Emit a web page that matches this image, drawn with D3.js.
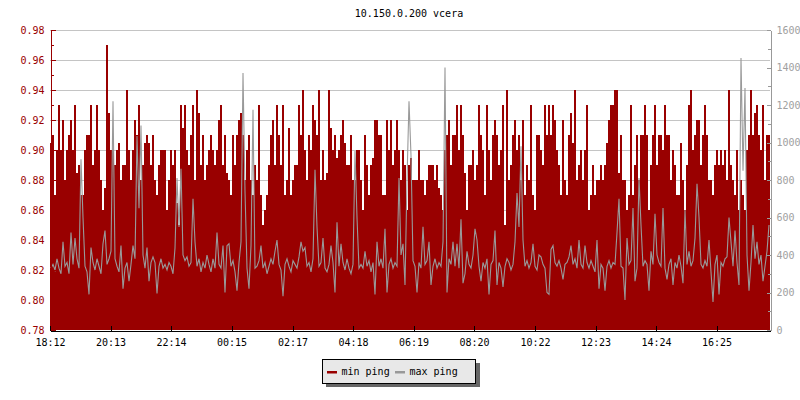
<!DOCTYPE html>
<html><head><meta charset="utf-8">
<script src="https://cdn.jsdelivr.net/npm/d3@7"></script>
<style>
body{margin:0;background:#fff}
svg{display:block;font-family:"DejaVu Sans Mono",monospace;font-size:10px}
</style>
</head><body><svg id="c" width="800" height="400"></svg>
<script>
const title = "10.150.0.200 vcera";
const stepMinutes = 4;           // one sample every 4 minutes, starting 18:12
const seriesNames = ["min ping", "max ping"];
const seriesColors = ["#990000", "#999999"];

// min ping (left axis)
const minPing = [
0.905,0.91,0.87,0.90,0.93,0.90,0.92,0.88,0.90,0.91,0.92,0.90,0.93,0.885,0.89,0.87,0.87,0.90,0.91,0.91,0.93,0.89,0.90,0.93,0.90,0.88,0.86,0.875,0.97,0.925,0.90,0.90,0.89,0.90,0.905,0.88,0.89,0.89,0.94,0.90,0.88,0.90,0.92,0.91,0.93,0.88,0.89,0.905,0.91,0.905,0.89,0.91,
0.88,0.87,0.89,0.90,0.90,0.90,0.86,0.88,0.90,0.89,0.90,0.865,0.85,0.93,0.915,0.93,0.90,0.89,0.91,0.93,0.88,0.94,0.925,0.89,0.91,0.88,0.89,0.90,0.91,0.90,0.89,0.90,0.92,0.93,0.89,0.91,0.885,0.88,0.87,0.91,0.89,0.91,0.92,0.925,0.91,0.88,0.90,0.91,0.88,0.87,0.89,
0.88,0.93,0.87,0.85,0.86,0.87,0.89,0.91,0.92,0.89,0.93,0.91,0.89,0.93,0.87,0.88,0.915,0.87,0.88,0.89,0.89,0.93,0.91,0.94,0.90,0.88,0.91,0.90,0.93,0.92,0.91,0.94,0.88,0.90,0.88,0.885,0.94,0.915,0.90,0.91,0.895,0.90,0.91,0.92,0.905,0.89,0.89,0.91,0.88,0.88,0.90,0.90,
0.88,0.86,0.91,0.89,0.87,0.89,0.895,0.92,0.92,0.91,0.91,0.87,0.87,0.92,0.90,0.92,0.89,0.90,0.92,0.90,0.88,0.90,0.89,0.86,0.89,0.895,0.88,0.88,0.88,0.90,0.88,0.88,0.87,0.88,0.89,0.89,0.89,0.88,0.89,0.875,0.87,0.86,0.90,0.91,0.92,0.89,0.91,0.91,0.93,0.90,0.93,
0.91,0.885,0.86,0.89,0.89,0.90,0.88,0.89,0.93,0.91,0.90,0.87,0.93,0.90,0.88,0.91,0.92,0.91,0.89,0.90,0.93,0.85,0.94,0.88,0.89,0.91,0.92,0.90,0.91,0.88,0.92,0.87,0.89,0.88,0.93,0.87,0.86,0.91,0.91,0.90,0.89,0.93,0.91,0.93,0.91,0.93,0.92,0.90,0.89,0.87,0.92,0.88,
0.87,0.91,0.925,0.905,0.94,0.88,0.89,0.90,0.88,0.90,0.93,0.86,0.87,0.89,0.87,0.88,0.88,0.89,0.88,0.89,0.905,0.92,0.93,0.93,0.94,0.94,0.885,0.91,0.88,0.88,0.86,0.87,0.93,0.87,0.89,0.91,0.88,0.91,0.91,0.93,0.91,0.86,0.89,0.91,0.93,0.89,0.91,0.91,0.90,0.93,0.91,
0.91,0.88,0.90,0.89,0.87,0.87,0.905,0.88,0.86,0.89,0.93,0.94,0.90,0.91,0.92,0.92,0.89,0.91,0.93,0.91,0.88,0.88,0.87,0.89,0.90,0.89,0.90,0.89,0.90,0.88,0.94,0.89,0.88,0.87,0.90,0.86,0.88,0.87,0.86,0.90,0.91,0.94,0.91,0.925,0.93,0.91,0.90,0.93,0.88,0.91,0.91
];

// max ping (right axis)
const maxPing = [
330,350,320,380,330,300,470,340,360,300,520,350,490,380,330,910,600,340,310,190,440,360,320,380,340,300,460,530,350,380,420,1220,380,340,310,450,220,330,360,260,350,450,380,1035,650,1090,400,330,440,260,360,390,
360,195,340,380,330,350,320,360,340,300,437,810,550,860,400,370,390,340,360,700,470,340,380,310,360,330,400,350,310,380,330,520,350,330,450,200,450,460,340,370,310,210,360,470,1370,740,330,220,450,1175,330,
340,370,450,330,360,300,340,380,350,420,480,350,320,180,350,380,340,310,370,350,330,390,470,420,440,340,360,310,380,855,550,340,360,490,330,310,350,450,360,200,575,340,460,360,320,380,330,300,350,955,600,330,
350,330,420,340,370,310,360,190,470,340,380,330,540,200,350,380,330,360,340,810,400,460,240,800,1220,930,370,340,200,360,330,550,350,370,470,240,340,380,330,360,340,470,1400,200,380,350,470,340,460,330,590,
250,300,420,350,330,400,540,480,340,260,360,330,380,190,350,370,530,240,360,330,230,340,380,360,320,350,470,730,550,980,480,340,370,330,360,460,340,320,400,390,350,330,200,190,430,450,360,340,370,330,270,350,
360,390,450,350,380,330,480,350,330,450,360,330,370,340,310,480,220,350,330,210,340,370,330,360,350,520,700,340,330,160,490,350,370,650,260,330,810,560,340,370,350,210,420,350,620,400,360,340,650,330,270,
350,380,240,360,330,400,340,250,640,350,420,340,370,490,780,600,350,330,370,340,480,310,150,350,400,190,360,340,380,390,600,470,340,530,360,240,1450,850,1290,400,210,360,560,380,470,350,400,260,340,420,560
];

const leftTicks = [0.78,0.80,0.82,0.84,0.86,0.88,0.90,0.92,0.94,0.96,0.98];
const leftMinor = [0.79,0.81,0.83,0.85,0.87,0.89,0.91,0.93,0.95,0.97];
const rightTicks = [0,200,400,600,800,1000,1200,1400,1600];
const rightMinor = [100,300,500,700,900,1100,1300,1500];
const timeLabels = ["18:12","20:13","22:14","00:15","02:17","04:18","06:19","08:20","10:22","12:23","14:24","16:25"];

// ---------- drawing ----------
const svg = d3.select("#c");
const L = 50, R = 770, T = 30, B = 330;
const toMin = s => { const [h, m] = s.split(":").map(Number); return h * 60 + m; };
const start = toMin(timeLabels[0]);
const offset = s => ((toMin(s) - start) + 1440) % 1440;

const x = d3.scaleLinear().domain([0, 1440]).range([L, R]);
const yL = d3.scaleLinear().domain([0.78, 0.98]).range([B, T]);
const yR = d3.scaleLinear().domain([0, 1600]).range([B, T]);

// grid
svg.append("g").selectAll("line").data(leftTicks.slice(1)).join("line")
  .attr("x1", L).attr("x2", R)
  .attr("y1", d => Math.round(yL(d)) + 0.5).attr("y2", d => Math.round(yL(d)) + 0.5)
  .attr("stroke", "#c4c4c4").attr("stroke-width", 1);

// min ping area
const minData = minPing.map((v, i) => ({t: i * stepMinutes, v}));
minData.push({t: 1440, v: minPing[minPing.length - 1]});
svg.append("path").datum(minData)
  .attr("d", d3.area().x(d => x(d.t)).y0(B).y1(d => yL(d.v)).curve(d3.curveStepAfter))
  .attr("fill", seriesColors[0]).attr("shape-rendering", "crispEdges");

// max ping line
const maxData = maxPing.map((v, i) => ({t: i * stepMinutes + stepMinutes / 2, v}));
svg.append("path").datum(maxData)
  .attr("d", d3.line().x(d => x(d.t)).y(d => yR(d.v)).curve(d3.curveLinear))
  .attr("fill", "none").attr("stroke", seriesColors[1]).attr("stroke-width", 1.1);

// left axis
const gL = svg.append("g").attr("transform", `translate(${L + 0.5},0)`);
gL.call(d3.axisLeft(yL).tickValues(leftTicks).tickSize(-5).tickSizeOuter(0).tickPadding(6).tickFormat(d3.format(".2f")));
gL.append("g").call(d3.axisLeft(yL).tickValues(leftMinor).tickSize(-3).tickSizeOuter(0).tickFormat(""))
  .select(".domain").remove();
gL.selectAll("line,path").attr("stroke", "#990000").attr("shape-rendering", "crispEdges");
gL.selectAll("text").attr("fill", "#990000").style("font-size", "10px").style("font-family", "DejaVu Sans Mono");

// right axis
const gR = svg.append("g").attr("transform", `translate(${R + 0.5},0)`);
gR.call(d3.axisRight(yR).tickValues(rightTicks).tickSize(-4).tickSizeOuter(0).tickPadding(6).tickFormat(d3.format("d")));
gR.append("g").call(d3.axisRight(yR).tickValues(rightMinor).tickSize(-3).tickSizeOuter(0).tickFormat(""))
  .select(".domain").remove();
gR.selectAll("line,path").attr("stroke", "#999999").attr("shape-rendering", "crispEdges");
gR.selectAll("text").attr("fill", "#a0a0a0").style("font-size", "10px").style("font-family", "DejaVu Sans Mono");

// bottom axis
const gB = svg.append("g").attr("transform", `translate(0,${B + 0.5})`);
gB.call(d3.axisBottom(x).tickValues(timeLabels.map(offset)).tickSize(-5).tickSizeOuter(0).tickPadding(8)
  .tickFormat((d, i) => timeLabels[i]));
gB.selectAll("line,path").attr("stroke", "#000").attr("shape-rendering", "crispEdges");
gB.selectAll("text").attr("fill", "#000").style("font-size", "10px").style("font-family", "DejaVu Sans Mono");

// title
svg.append("text").attr("x", 409).attr("y", 17).attr("text-anchor", "middle")
  .attr("fill", "#000").text(title);

// legend
const lg = svg.append("g");
lg.append("rect").attr("x", 326).attr("y", 363).attr("width", 154).attr("height", 24).attr("fill", "#666");
lg.append("rect").attr("x", 322.5).attr("y", 359.5).attr("width", 153).attr("height", 24)
  .attr("fill", "#e8e8e8").attr("stroke", "#000").attr("stroke-width", 1);
const items = [{x: 327, tx: 341.5}, {x: 395, tx: 409.5}];
items.forEach((it, i) => {
  lg.append("rect").attr("x", it.x).attr("y", 371).attr("width", 10).attr("height", 2.5).attr("fill", seriesColors[i]);
  lg.append("text").attr("x", it.tx).attr("y", 375).attr("fill", "#000").text(seriesNames[i]);
});
</script>
</body></html>
